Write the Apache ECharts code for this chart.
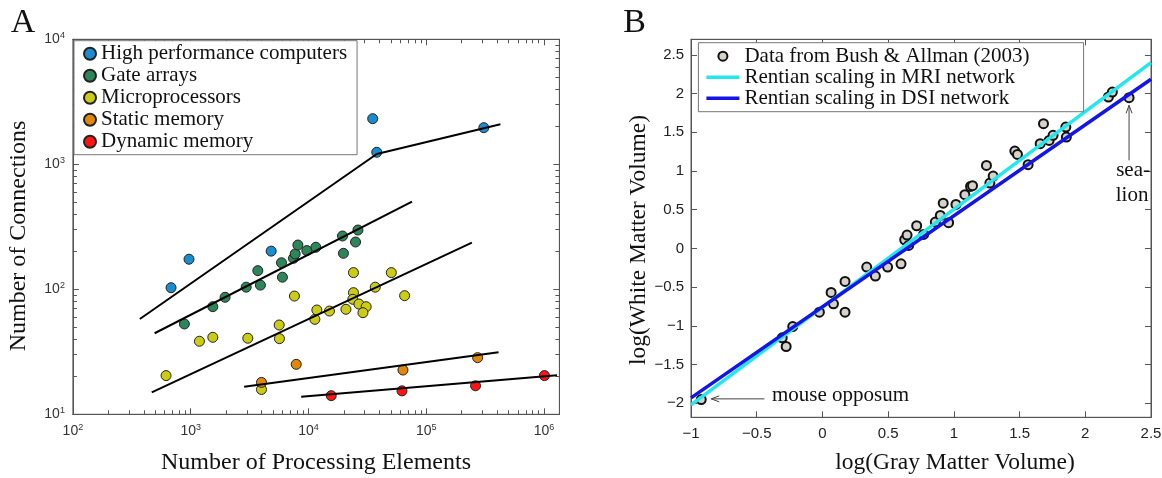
<!DOCTYPE html>
<html>
<head>
<meta charset="utf-8">
<script src="https://cdn.jsdelivr.net/npm/echarts@6/dist/echarts.min.js"></script>
<style>
html,body{margin:0;padding:0;background:#fff;}
#c{width:1162px;height:478px;}
</style>
</head>
<body>
<div id="c"></div>
<script>
// ---------------- Panel A data ----------------
const hpcX = [681, 968, 4820, 35100, 38000, 308000];
const hpcY = [103, 174, 202, 2317, 1248, 1963];
const gateX = [884, 1541, 1959, 2958, 3715, 3908, 5900, 6010, 7460, 7710, 8130, 9680, 11550, 19450, 19800, 25100, 26300];
const gateY = [52.8, 72.6, 86.3, 104, 141, 108, 163, 125, 177, 192, 226, 204, 217, 267, 194, 239, 298];
const microX = [618, 1186, 1541, 3055, 3990, 5640, 5670, 7600, 11330, 11780, 15070, 20800, 24100, 24100, 23800, 26800, 30900, 29000, 36900, 50500, 65500];
const microY = [20.4, 38.4, 41.3, 40.6, 15.8, 51.8, 40.3, 88.3, 57.5, 68.3, 67, 69.2, 136, 94, 83.2, 76.2, 72.6, 65, 104, 136, 88.9];
const staticX = [3990, 7870, 63400, 273000];
const staticY = [18.0, 25.1, 22.6, 28.4];
const dynamicX = [15600, 62200, 262000, 1007000];
const dynamicY = [14.1, 15.4, 16.9, 20.4];

const hpcFitX = [370, 38000, 426000];
const hpcFitY = [57.9, 1209, 2089];
const gateFitX = [494, 75700];
const gateFitY = [44.5, 502];
const microFitX = [467, 244000];
const microFitY = [15, 236];
const staticFitX = [2845, 411000];
const staticFitY = [16.6, 31.3];
const dynamicFitX = [8670, 1288000];
const dynamicFitY = [13.8, 20.5];

const seriesNamesA = ['High performance computers', 'Gate arrays', 'Microprocessors', 'Static memory', 'Dynamic memory'];
const xTickExpA = [2, 3, 4, 5, 6];
const yTickExpA = [1, 2, 3, 4];
const xRangeA = [100, 1.35e6];
const yRangeA = [10, 10000];

// ---------------- Panel B data ----------------
const grayLog = [-0.922, -0.306, -0.276, -0.226, -0.023, 0.066, 0.084, 0.172, 0.172, 0.337, 0.403, 0.496, 0.598, 0.626, 0.644, 0.656, 0.717, 0.770, 0.859, 0.897, 0.919, 0.960, 1.016,
  1.084, 1.127, 1.142, 1.248, 1.274, 1.299, 1.464, 1.484, 1.565, 1.682, 1.657, 1.725, 1.755, 1.852, 1.856, 2.176, 2.206, 2.333];
const whiteLog = [-1.951, -1.154, -1.266, -1.008, -0.823, -0.568, -0.715, -0.426, -0.823, -0.241, -0.357, -0.241, -0.198, 0.112, 0.172, 0.039, 0.293, 0.181, 0.340, 0.426, 0.585, 0.332, 0.568,
  0.694, 0.801, 0.810, 1.072, 0.844, 0.934, 1.257, 1.214, 1.081, 1.611, 1.353, 1.395, 1.460, 1.567, 1.438, 1.955, 2.019, 1.947];
const mriFitX = [-1, 2.5];
const mriFitY = [-2.02, 2.40];
const dsiFitX = [-1, 2.5];
const dsiFitY = [-1.93, 2.185];
const seriesNamesB = ['Data from Bush & Allman (2003)', 'Rentian scaling in MRI network', 'Rentian scaling in DSI network'];
const xTicksB = [-1, -0.5, 0, 0.5, 1, 1.5, 2, 2.5];
const yTicksB = [-2, -1.5, -1, -0.5, 0, 0.5, 1, 1.5, 2, 2.5];
const xRangeB = [-1, 2.5];
const yRangeB = [-2.18, 2.7];
const seaLionArrow = [[2.333, 1.137], [2.333, 1.848]];
const mouseArrow = [[-0.441, -1.942], [-0.846, -1.942]];

// ---------------- helpers ----------------
const SERIF = '"Liberation Serif", "Times New Roman", Times, serif';
const SANS = '"Liberation Sans", Arial, Helvetica, sans-serif';
const AXC = '#555';
const pairs = (xs, ys) => xs.map((x, i) => [x, ys[i]]);
const majLog = exps => exps.map(e => Math.pow(10, e));
function minorLog(exps, lo, hi) {
  const r = [];
  exps.forEach(e => { for (let k = 2; k <= 9; k++) { const v = k * Math.pow(10, e); if (v > lo && v < hi) r.push(v); } });
  return r;
}
const xMajA = majLog(xTickExpA), yMajA = majLog(yTickExpA);
const xMinA = minorLog(xTickExpA, xRangeA[0], xRangeA[1]);
const yMinA = minorLog(yTickExpA, yRangeA[0], yRangeA[1]);
const supFmt = v => '{b|10}{s|' + Math.round(Math.log10(v)) + '}';
const richA = {
  b: { fontFamily: SANS, fontSize: 14, color: '#333', lineHeight: 16 },
  s: { fontFamily: SANS, fontSize: 9, color: '#333', verticalAlign: 'top', lineHeight: 9 }
};
const minus = v => (v < 0 ? '\u2212' + Math.abs(v) : String(v));

function logAx(idx, pos, range, vals, len, labelOpt) {
  return {
    gridIndex: idx, type: 'log', logBase: 10, min: range[0], max: range[1], position: pos,
    axisLine: { show: true, onZero: false, lineStyle: { color: AXC, width: 1 } },
    axisTick: { show: true, inside: true, length: len, lineStyle: { color: AXC, width: 1 }, customValues: vals },
    axisLabel: labelOpt ? Object.assign({ show: true, customValues: vals }, labelOpt) : { show: false },
    splitLine: { show: false }, minorTick: { show: false }
  };
}
function valAx(idx, pos, range, vals, labelOpt) {
  return {
    gridIndex: idx, type: 'value', min: range[0], max: range[1], position: pos,
    axisLine: { show: true, onZero: false, lineStyle: { color: AXC, width: 1 } },
    axisTick: { show: true, inside: true, length: 6, lineStyle: { color: AXC, width: 1 }, customValues: vals },
    axisLabel: labelOpt ? Object.assign({ show: true, customValues: vals }, labelOpt) : { show: false },
    splitLine: { show: false }
  };
}

const colorsA = ['#1a8cd0', '#2d855a', '#cccc14', '#e1870a', '#ff1414'];
const ptsA = [pairs(hpcX, hpcY), pairs(gateX, gateY), pairs(microX, microY), pairs(staticX, staticY), pairs(dynamicX, dynamicY)];
const fitsA = [pairs(hpcFitX, hpcFitY), pairs(gateFitX, gateFitY), pairs(microFitX, microFitY), pairs(staticFitX, staticFitY), pairs(dynamicFitX, dynamicFitY)];

const series = [];
ptsA.forEach((d, i) => series.push({
  name: seriesNamesA[i], type: 'scatter', xAxisIndex: 0, yAxisIndex: 0, data: d,
  symbol: 'circle', symbolSize: 10, z: 2,
  itemStyle: { color: colorsA[i], borderColor: '#222', borderWidth: 1, opacity: 1 }
}));
fitsA.forEach((d, i) => series.push({
  name: 'fitA' + i, type: 'line', xAxisIndex: 0, yAxisIndex: 0, data: d, symbol: 'none', z: 3,
  lineStyle: { color: '#000', width: 2 }, silent: true
}));
series.push({
  name: seriesNamesB[0], type: 'scatter', xAxisIndex: 4, yAxisIndex: 4, data: pairs(grayLog, whiteLog),
  symbol: 'circle', symbolSize: 9, z: 2,
  itemStyle: { color: '#d6d2ca', borderColor: '#111', borderWidth: 2, opacity: 1 }
});
series.push({
  name: seriesNamesB[1], type: 'line', xAxisIndex: 4, yAxisIndex: 4, data: pairs(mriFitX, mriFitY),
  symbol: 'none', z: 3, lineStyle: { color: '#22e8ee', width: 3.5 }, itemStyle: { color: '#22e8ee' }
});
series.push({
  name: seriesNamesB[2], type: 'line', xAxisIndex: 4, yAxisIndex: 4, data: pairs(dsiFitX, dsiFitY),
  symbol: 'none', z: 4, lineStyle: { color: '#1414e6', width: 3.5 }, itemStyle: { color: '#1414e6' }
});

const lineIcon = 'path://M0,0 L33,0 L33,3.5 L0,3.5 Z';
const option = {
  animation: false,
  backgroundColor: '#fff',
  grid: [
    { left: 72.9, top: 39.3, width: 486.5, height: 375, show: true, borderColor: AXC, borderWidth: 1, backgroundColor: 'transparent', outerBoundsMode: 'none', containLabel: false },
    { left: 691, top: 39.3, width: 460, height: 378, show: true, borderColor: AXC, borderWidth: 1, backgroundColor: 'transparent', outerBoundsMode: 'none', containLabel: false }
  ],
  xAxis: [
    logAx(0, 'bottom', xRangeA, xMajA, 6, { formatter: supFmt, rich: richA, margin: 9 }),
    logAx(0, 'bottom', xRangeA, xMinA, 4, null),
    logAx(0, 'top', xRangeA, xMajA, 6, null),
    logAx(0, 'top', xRangeA, xMinA, 4, null),
    valAx(1, 'bottom', xRangeB, xTicksB, { formatter: minus, fontFamily: SANS, fontSize: 15, color: '#222', margin: 9 }),
    valAx(1, 'top', xRangeB, xTicksB, null)
  ],
  yAxis: [
    logAx(0, 'left', yRangeA, yMajA, 6, { formatter: supFmt, rich: richA, margin: 8 }),
    logAx(0, 'left', yRangeA, yMinA, 4, null),
    logAx(0, 'right', yRangeA, yMajA, 6, null),
    logAx(0, 'right', yRangeA, yMinA, 4, null),
    valAx(1, 'left', yRangeB, yTicksB, { formatter: minus, fontFamily: SANS, fontSize: 15, color: '#222', margin: 7 }),
    valAx(1, 'right', yRangeB, yTicksB, null)
  ],
  legend: [
    {
      data: seriesNamesA, orient: 'vertical', left: 74, top: 40.7, padding: [2, 10, 2, 9],
      itemGap: 0, itemWidth: 12, itemHeight: 12, icon: 'circle', selectedMode: false,
      backgroundColor: '#fff', borderColor: '#777', borderWidth: 1, borderRadius: 0,
      textStyle: { fontFamily: SERIF, fontSize: 21, color: '#111', lineHeight: 22 }
    },
    {
      data: [
        { name: seriesNamesB[0], icon: 'circle' },
        { name: seriesNamesB[1], icon: lineIcon },
        { name: seriesNamesB[2], icon: lineIcon }
      ],
      orient: 'vertical', left: 698.4, top: 42.7, padding: [3, 54, 3, 8],
      itemGap: 0, itemWidth: 33, itemHeight: 9, selectedMode: false,
      backgroundColor: '#fff', borderColor: '#777', borderWidth: 1, borderRadius: 0,
      textStyle: { fontFamily: SERIF, fontSize: 21, color: '#111', lineHeight: 21 }
    }
  ],
  series: series
};

const chart = echarts.init(document.getElementById('c'));
chart.setOption(option);

// annotations & titles
const toPx = p => chart.convertToPixel({ xAxisIndex: 4, yAxisIndex: 4 }, p);
const txt = (text, x, y, size, rot, extra) => ({
  type: 'text', x: x, y: y, rotation: rot || 0, z: 10,
  style: Object.assign({ text: text, fontFamily: SERIF, fontSize: size, fill: '#111', textAlign: 'center', textVerticalAlign: 'middle' }, extra || {})
});
const sl0 = toPx(seaLionArrow[0]), sl1 = toPx(seaLionArrow[1]);
const mo0 = toPx(mouseArrow[0]), mo1 = toPx(mouseArrow[1]);

const graphics = [
  txt('A', 23, 23, 34),
  txt('B', 634.5, 23, 34),
  txt('Number of Connections', 18.5, 236, 24, Math.PI / 2),
  txt('Number of Processing Elements', 316, 463, 24),
  txt('log(White Matter Volume)', 639, 240, 23.5, Math.PI / 2),
  txt('log(Gray Matter Volume)', 955, 463, 23.5),
  txt('sea-', sl0[0] + 4, sl0[1] + 10, 21),
  txt('lion', sl0[0] + 3, sl0[1] + 35, 21),
  txt('mouse opposum', mo0[0] + 76, mo0[1] - 3, 21),
  { type: 'line', z: 10, shape: { x1: sl0[0], y1: sl0[1], x2: sl1[0], y2: sl1[1] }, style: { stroke: '#444', lineWidth: 1 } },
  { type: 'polyline', z: 10, shape: { points: [[sl1[0] - 3, sl1[1] + 8], [sl1[0], sl1[1]], [sl1[0] + 3, sl1[1] + 8]] }, style: { stroke: '#444', lineWidth: 1, fill: null } },
  { type: 'line', z: 10, shape: { x1: mo0[0], y1: mo0[1], x2: mo1[0], y2: mo1[1] }, style: { stroke: '#444', lineWidth: 1 } },
  { type: 'polyline', z: 10, shape: { points: [[mo1[0] + 8, mo1[1] - 3], [mo1[0], mo1[1]], [mo1[0] + 8, mo1[1] + 3]] }, style: { stroke: '#444', lineWidth: 1, fill: null } }
];
chart.setOption({ graphic: graphics });
</script>
</body>
</html>
